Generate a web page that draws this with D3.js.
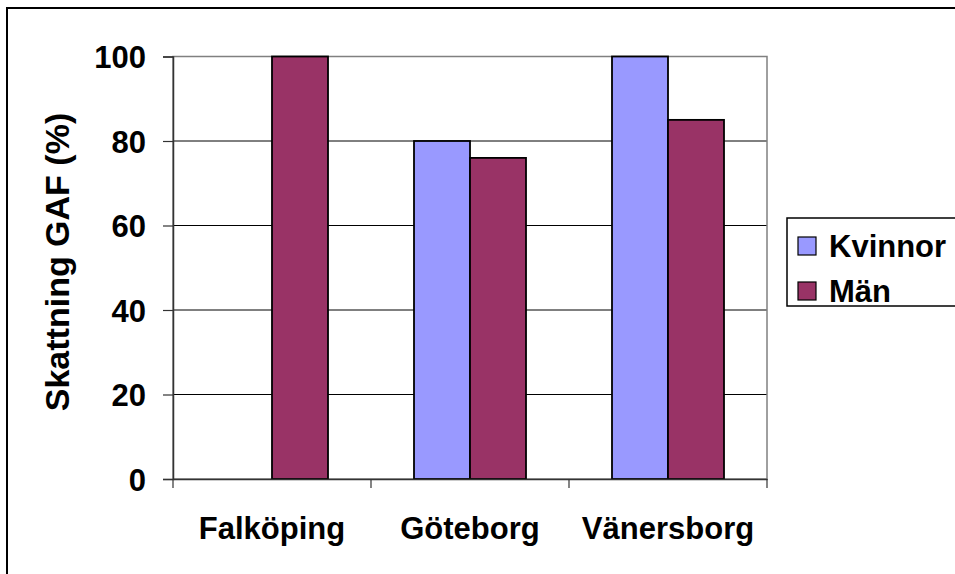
<!DOCTYPE html>
<html><head><meta charset="utf-8">
<script src="https://cdn.jsdelivr.net/npm/d3@7"></script>
<style>html,body{margin:0;padding:0;background:#fff;}svg{display:block;}</style>
</head><body>
<script>
const categories = ["Falköping", "Göteborg", "Vänersborg"];
const seriesNames = ["Kvinnor", "Män"];
const kvinnor = [null, 80, 100];
const man = [100, 76, 85];
const yTicks = [0, 20, 40, 60, 80, 100];
const colors = ["#9999FF", "#993366"];

const W = 955, H = 574;
const svg = d3.select("body").append("svg").attr("width", W).attr("height", H);
const font = "'Liberation Sans', Arial, sans-serif";

// outer frame (right/bottom edges fall outside the picture)
svg.append("rect").attr("x", 7).attr("y", 8).attr("width", 1000).attr("height", 1000)
  .attr("fill", "#fff").attr("stroke", "#000").attr("stroke-width", 2);

const L = 173, R = 767, T = 56.5, B = 479;
const x = d3.scaleBand().domain(categories).range([L, R]).paddingInner(0).paddingOuter(0);
const y = d3.scaleLinear().domain([0, 100]).range([B, T]);
const groupW = x.bandwidth() * 112 / 198;
const xs = d3.scaleBand().domain(seriesNames).range([0, groupW]);

// gridlines
svg.append("g").selectAll("line").data(yTicks.filter(t => t > 0 && t < 100)).join("line")
  .attr("x1", L).attr("x2", R).attr("y1", d => y(d)).attr("y2", d => y(d))
  .attr("stroke", "#000").attr("stroke-width", 1);

// plot border
svg.append("rect").attr("x", L).attr("y", T).attr("width", R - L).attr("height", B - T)
  .attr("fill", "none").attr("stroke", "#808080").attr("stroke-width", 1.5);

// bars
const series = [kvinnor, man];
series.forEach((vals, si) => {
  svg.append("g").selectAll("rect").data(categories.map((c, i) => ({c, v: vals[i]})).filter(d => d.v != null))
    .join("rect")
    .attr("x", d => x(d.c) + (x.bandwidth() - groupW) / 2 + xs(seriesNames[si]))
    .attr("y", d => y(d.v))
    .attr("width", xs.bandwidth())
    .attr("height", d => y(0) - y(d.v))
    .attr("fill", colors[si]).attr("stroke", "#000").attr("stroke-width", 1.8);
});

// y axis
const yAxis = svg.append("g").attr("transform", `translate(${L},0)`)
  .call(d3.axisLeft(y).tickValues(yTicks).tickSize(10).tickPadding(17).tickFormat(d3.format("d")));
yAxis.select(".domain").attr("stroke", "#333").attr("stroke-width", 1.5);
yAxis.selectAll(".tick line").attr("stroke", "#333").attr("stroke-width", 1.2);
yAxis.selectAll(".tick text").attr("font-family", font).attr("font-weight", "bold")
  .attr("font-size", 31).attr("fill", "#000").attr("dy", "0.36em");

// x axis
const xAxis = svg.append("g").attr("transform", `translate(0,${B})`)
  .call(d3.axisBottom(x).tickSize(0).tickPadding(0));
xAxis.select(".domain").attr("stroke", "#333").attr("stroke-width", 1.5);
xAxis.selectAll(".tick text").attr("font-family", font).attr("font-weight", "bold")
  .attr("font-size", 31).attr("fill", "#000").attr("dy", 0).attr("y", 60);
// category separators (tick marks between categories)
const seps = categories.map(c => x(c)).concat([R]);
svg.append("g").selectAll("line").data(seps).join("line")
  .attr("x1", d => d).attr("x2", d => d).attr("y1", B).attr("y2", B + 9)
  .attr("stroke", "#333").attr("stroke-width", 1.2);

// y axis title
svg.append("text").attr("transform", `translate(69,262) rotate(-90)`)
  .attr("text-anchor", "middle").attr("font-family", font).attr("font-weight", "bold")
  .attr("font-size", 34).text("Skattning GAF (%)");

// legend
const lg = svg.append("g");
lg.append("rect").attr("x", 787).attr("y", 218).attr("width", 300).attr("height", 88)
  .attr("fill", "#fff").attr("stroke", "#000").attr("stroke-width", 1.5);
seriesNames.forEach((n, i) => {
  const cy = 246 + i * 45;
  lg.append("rect").attr("x", 798).attr("y", cy - 9).attr("width", 18).attr("height", 18)
    .attr("fill", colors[i]).attr("stroke", "#000").attr("stroke-width", 1.2);
  lg.append("text").attr("x", 829).attr("y", cy + 11).attr("font-family", font)
    .attr("font-weight", "bold").attr("font-size", 31).text(n);
});
</script>
</body></html>
